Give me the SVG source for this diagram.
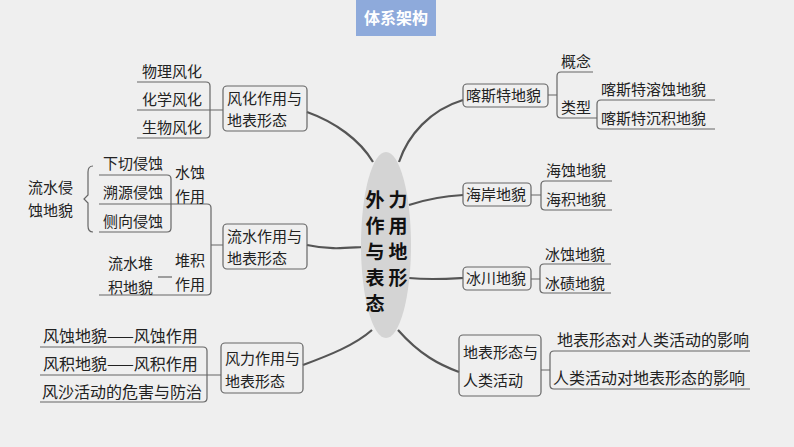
<svg xmlns="http://www.w3.org/2000/svg" width="794" height="447" viewBox="0 0 794 447">
<style>
text{font-family:"Noto Sans CJK SC","Noto Sans CJK JP",sans-serif;font-size:15px;fill:#222}
.b{fill:none;stroke:#666;stroke-width:1.2}
.c{fill:none;stroke:#555;stroke-width:2.2}
.box{fill:none;stroke:#666;stroke-width:1.2}
.big{font-size:19px;font-weight:bold;fill:#111}
.l{font-size:16px}
</style>
<rect width="794" height="447" fill="#efefef"/>
<g id="title"><rect x="356" y="0" width="80" height="36" fill="#8eaadb"/><text x="396" y="24" text-anchor="middle" style="fill:#fff;font-weight:bold;font-size:16px">体系架构</text></g>
<g id="connectors">
<path class="c" d="M307,112 C335,122 360,140 373,162"/>
<path class="c" d="M307,245 C330,250 345,248 363,247"/>
<path class="c" d="M303,365 C330,355 355,345 372,330"/>
<path class="c" d="M463,100 C430,110 408,135 399,162"/>
<path class="c" d="M409,205 C430,198 445,196 463,195"/>
<path class="c" d="M409,278 C430,280 445,279 463,278"/>
<path class="c" d="M398,330 C420,355 440,365 459,372"/>
</g>
<g id="center"><ellipse cx="386" cy="245" rx="25" ry="93" fill="#d4d4d4"/>
<text class="big" x="375" y="207" text-anchor="middle">外</text><text class="big" x="375" y="233" text-anchor="middle">作</text><text class="big" x="375" y="259" text-anchor="middle">与</text><text class="big" x="375" y="285" text-anchor="middle">表</text><text class="big" x="375" y="311" text-anchor="middle">态</text>
<text class="big" x="398" y="207" text-anchor="middle">力</text><text class="big" x="398" y="233" text-anchor="middle">用</text><text class="big" x="398" y="259" text-anchor="middle">地</text><text class="big" x="398" y="285" text-anchor="middle">形</text></g>
<g id="weathering"><rect class="box" x="223" y="86" width="84" height="45" rx="4"/><text x="227" y="104">风化作用与</text><text x="227" y="126">地表形态</text>
<path class="b" d="M137,82 H206 Q210,82 210,86 V134 Q210,138 206,138 H137 M137,110 H223"/>
<text x="142" y="77">物理风化</text><text x="142" y="105">化学风化</text><text x="142" y="133">生物风化</text></g>
<g id="water"><rect class="box" x="223" y="224" width="84" height="45" rx="4"/><text x="227" y="242">流水作用与</text><text x="227" y="264">地表形态</text>
<path class="b" d="M99,204 H207 Q211,204 211,208 V291 Q211,295 207,295 H99 M211,245 H223"/>
<path class="b" d="M99,175 H167 Q171,175 171,179 V228 Q171,232 167,232 H99"/>
<path class="b" d="M93,166 Q88,166 88,172 V195 L84,199 L88,203 V226 Q88,232 93,232"/>
<path class="b" d="M158,277 H172"/>
<text x="103" y="169">下切侵蚀</text><text x="103" y="198">溯源侵蚀</text><text x="103" y="227">侧向侵蚀</text>
<text x="175" y="178">水蚀</text><text x="175" y="202">作用</text>
<text x="28" y="193">流水侵</text><text x="28" y="216">蚀地貌</text>
<text x="108" y="269">流水堆</text><text x="108" y="293">积地貌</text>
<text x="175" y="266">堆积</text><text x="175" y="290">作用</text></g>
<g id="wind"><rect class="box" x="221" y="343" width="82" height="50" rx="4"/><text x="225" y="364">风力作用与</text><text x="225" y="387">地表形态</text>
<path class="b" d="M40,347 H203 Q207,347 207,351 V398 Q207,402 203,402 H40 M40,375 H221"/>
<text class="l" x="43" y="342">风蚀地貌——风蚀作用</text><text class="l" x="43" y="370">风积地貌——风积作用</text><text class="l" x="42" y="398">风沙活动的危害与防治</text></g>
<g id="karst"><rect class="box" x="463" y="84" width="85" height="23" rx="4"/><text x="466" y="101">喀斯特地貌</text>
<path class="b" d="M548,95 H557 M593,72 H561 Q557,72 557,76 V114 Q557,118 561,118 H597 M715,100 H601 Q597,100 597,104 V125 Q597,129 601,129 H715"/>
<text x="561" y="67">概念</text><text x="561" y="113">类型</text><text x="601" y="95">喀斯特溶蚀地貌</text><text x="601" y="124">喀斯特沉积地貌</text></g>
<g id="coast"><rect class="box" x="463" y="183" width="68" height="23" rx="4"/><text x="466" y="200">海岸地貌</text>
<path class="b" d="M531,195 H541 M612,181 H545 Q541,181 541,185 V206 Q541,210 545,210 H612"/>
<text x="546" y="176">海蚀地貌</text><text x="546" y="205">海积地貌</text></g>
<g id="glacier"><rect class="box" x="463" y="267" width="68" height="23" rx="4"/><text x="466" y="284">冰川地貌</text>
<path class="b" d="M531,279 H540 M611,264 H544 Q540,264 540,268 V289 Q540,293 544,293 H611"/>
<text x="545" y="260">冰蚀地貌</text><text x="545" y="289">冰碛地貌</text></g>
<g id="human"><rect class="box" x="459" y="335" width="82" height="61" rx="4"/><text x="463" y="358">地表形态与</text><text x="463" y="386">人类活动</text>
<path class="b" d="M541,370 H550 M750,351 H554 Q550,351 550,355 V385 Q550,389 554,389 H750"/>
<text class="l" x="557" y="346">地表形态对人类活动的影响</text><text class="l" x="553" y="384">人类活动对地表形态的影响</text></g>
</svg>
